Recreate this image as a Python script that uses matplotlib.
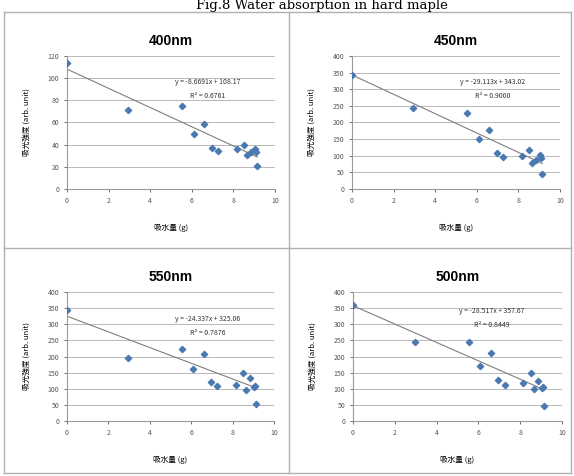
import matplotlib.pyplot as plt
from matplotlib.lines import Line2D

plt.rcParams['font.family'] = ['Noto Sans CJK JP', 'DejaVu Sans']

W, H = 574, 476

# water uptake (g), same samples in every panel
water = [0, 2.95, 5.55, 6.1, 6.6, 6.95, 7.25, 8.15, 8.5, 8.65, 8.85, 9.05, 9.1, 9.15]

abs_400 = [114, 71, 75, 50, 59, 37, 34, 36.5, 39.5, 31, 33.5, 36, 33.5, 21]
abs_450 = [343, 245, 228, 149, 177, 107, 96, 99, 116, 79, 88, 102, 92, 45]
abs_550 = [345, 195, 222, 161, 209, 121, 110, 113, 150, 97, 134, 105, 108, 52]
abs_500 = [360, 244, 244, 172, 210, 126, 113, 118, 148, 100, 124, 103, 105, 47]

titles = ['400nm', '450nm', '550nm', '500nm']
series = [abs_400, abs_450, abs_550, abs_500]
slopes = [-8.6691, -29.113, -24.337, -28.517]
icepts = [108.17, 343.02, 325.06, 357.67]
r2 = ['0.6761', '0.9000', '0.7876', '0.8449']
ymax = [120, 400, 400, 400]
ystep = [20, 50, 50, 50]

# plot area boxes in pixels: left, top, right, bottom
boxes = [(67, 56, 275, 189), (352, 56, 560, 189),
         (67, 292, 274, 421), (353, 292, 562, 421)]
eq_pos = [(208, 82), (493, 82), (208, 319), (492, 311)]

fig = plt.figure(figsize=(W / 100, H / 100), dpi=100)

def fx(px):
    return px / W

def fy(py):
    return 1 - py / H

fig.text(fx(322), fy(5.5), 'Fig.8 Water absorption in hard maple', ha='center',
         va='center', fontsize=9.5, family='DejaVu Serif')

# panel frame
for xs, ys in [((4, 571), (12, 12)), ((4, 571), (473, 473)), ((4, 4), (12, 473)),
               ((571, 571), (12, 473)), ((289, 289), (12, 473)), ((4, 571), (248, 248))]:
    fig.add_artist(Line2D([fx(x) for x in xs], [fy(y) for y in ys],
                          color='#b0b0b0', lw=1.0))

for i in range(4):
    l, t, r, b = boxes[i]
    ax = fig.add_axes([fx(l), fy(b), (r - l) / W, (b - t) / H])
    xs = water
    ax.scatter(xs, series[i], marker='D', s=10, color='#4a78b0', zorder=3)
    xl = [0, max(xs)]
    ax.plot(xl, [slopes[i] * v + icepts[i] for v in xl], color='#7f7f7f', lw=0.8, zorder=2)
    ax.set_xlim(0, 10)
    ax.set_ylim(0, ymax[i])
    ax.set_xticks(range(0, 11, 2))
    ax.set_yticks(range(0, ymax[i] + 1, ystep[i]))
    ax.yaxis.grid(True, color='#b8b8b8', lw=0.7)
    ax.set_axisbelow(True)
    for s in ['top', 'right']:
        ax.spines[s].set_visible(False)
    for s in ['left', 'bottom']:
        ax.spines[s].set_color('#9a9a9a')
    ax.tick_params(labelsize=5, colors='#555555', length=2, width=0.6)
    ax.set_title(titles[i], fontsize=10, fontweight='bold', pad=8,
                 family=['Liberation Sans', 'DejaVu Sans'])
    ax.set_xlabel('吸水量 (g)', fontsize=5.5, labelpad=14)
    ax.set_ylabel('吸光強度 (arb. unit)', fontsize=5.5, labelpad=12)
    ex, ey = eq_pos[i]
    fig.text(fx(ex), fy(ey), 'y = %gx + %.2f' % (slopes[i], icepts[i]),
             ha='center', va='center', fontsize=5, color='#333333')
    fig.text(fx(ex), fy(ey + 14), 'R² = ' + r2[i], ha='center', va='center',
             fontsize=5, color='#333333')

fig.savefig('out.png', dpi=100)
